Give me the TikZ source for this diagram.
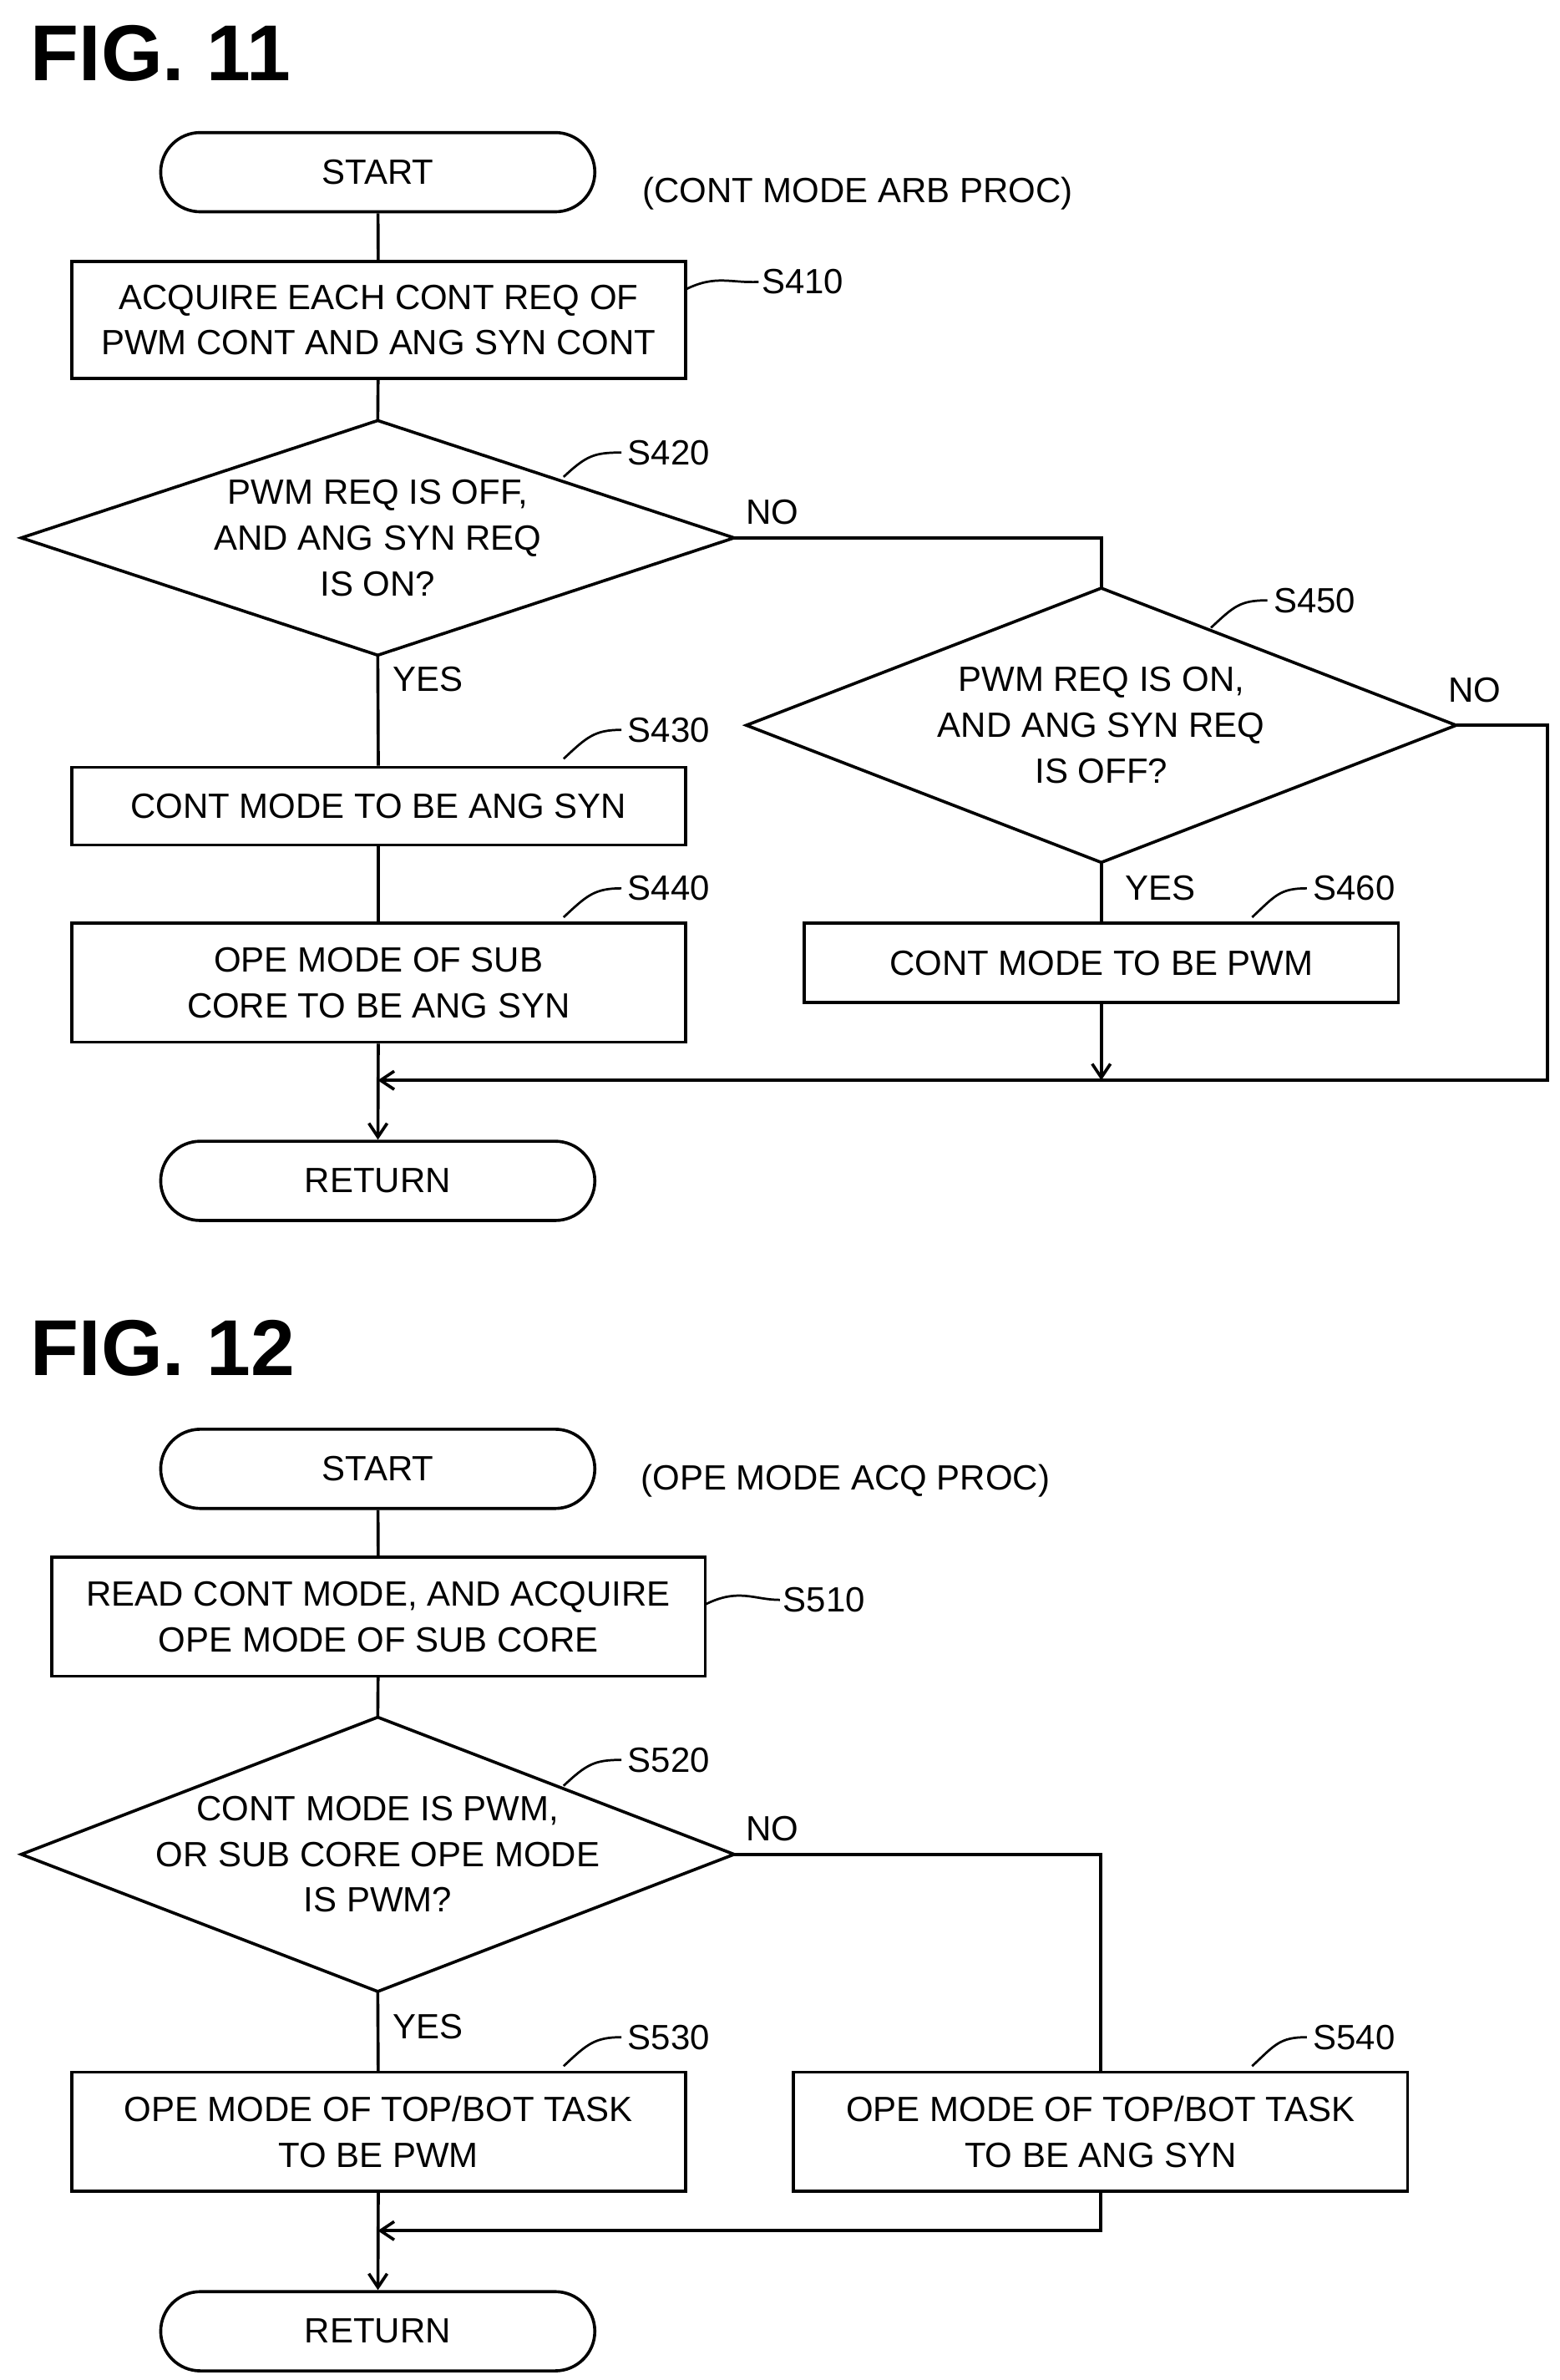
\documentclass[tikz,border=0pt]{standalone}
\usepackage{fontspec}
\setmainfont{Liberation Sans}
\usetikzlibrary{shapes.misc,arrows.meta}
\tikzset{
  txt/.style={font=\fontsize{23}{30}\selectfont, align=center, inner sep=0pt},
  box/.style={draw, line width=2pt, txt},
  term/.style={draw, line width=2pt, rounded rectangle, minimum width=285pt, minimum height=52pt, txt},
  lab/.style={txt, anchor=west},
  ln/.style={line width=2pt},
  arr/.style={line width=2pt, -{Straight Barb[length=9pt,width=12pt]}},
  fig/.style={font=\fontsize{52}{56}\selectfont\bfseries, anchor=west, inner sep=0pt}
}
\newcommand{\diam}[5]{% name, cx, cy, half width, half height
  \coordinate (#1-c) at (#2,#3);
  \coordinate (#1-n) at (#2,#3-#5);
  \coordinate (#1-s) at (#2,#3+#5);
  \coordinate (#1-w) at (#2-#4,#3);
  \coordinate (#1-e) at (#2+#4,#3);
  \draw[ln] (#1-n) -- (#1-e) -- (#1-s) -- (#1-w) -- cycle;}
\newcommand{\steplab}[3]{% from point, label pos, text
  \draw[line width=1.5pt] (#1) .. controls +(15,-14) and +(-18,0) .. ([xshift=-4pt]#2);
  \node[lab] at (#2) {#3};}
\begin{document}
\begin{tikzpicture}[x=1pt,y=1pt,yscale=-1]
\useasboundingbox (0,0) rectangle (1024,1562);

%FIG. 11
\node[fig] (f11) at (20,35) {FIG. 11};
\node[term] (start1) at (248,113) {START};
\node[txt] (c1) at (563,127) {(CONT MODE ARB PROC)};
\node[box, minimum width=403pt, minimum height=77pt] (s410) at (248.5,210) {ACQUIRE EACH CONT REQ OF\\PWM CONT AND ANG SYN CONT};
\draw[line width=1.5pt] (450,190) .. controls (470,180) and (480,186) .. (498,185);
\node[lab] at (500,185) {S410};
\diam{s420}{248}{353}{234}{77}
\node[txt] (t420) at (s420-c) {PWM REQ IS OFF,\\AND ANG SYN REQ\\IS ON?};
\steplab{370,313}{412,297}{S420}
\node[box, minimum width=403pt, minimum height=51pt] (s430) at (248.5,529) {CONT MODE TO BE ANG SYN};
\steplab{370,498}{412,479}{S430}
\node[box, minimum width=403pt, minimum height=78pt] (s440) at (248.5,645) {OPE MODE OF SUB\\CORE TO BE ANG SYN};
\steplab{370,602}{412,583}{S440}
\diam{s450}{723}{476}{233}{90}
\node[txt] (t450) at (s450-c) {PWM REQ IS ON,\\AND ANG SYN REQ\\IS OFF?};
\steplab{795,412}{836,394}{S450}
\node[box, minimum width=390pt, minimum height=52pt] (s460) at (723,632) {CONT MODE TO BE PWM};
\steplab{822,602}{862,583}{S460}
\node[term] (ret1) at (248,775) {RETURN};
\coordinate (j1) at (248,709);
\coordinate (r1) at (1016,476);
\node[txt] at (507,336) {NO};
\node[txt] at (281,446) {YES};
\node[txt] at (968,453) {NO};
\node[txt] at (762,583) {YES};
\draw[ln] (start1) -- (s410);
\draw[ln] (s410) -- (s420-n);
\draw[ln] (s420-s) -- (s430);
\draw[ln] (s430) -- (s440);
\draw[arr] (s440) -- (ret1);
\draw[ln] (s420-e) -| (s450-n);
\draw[ln] (s450-s) -- (s460);
\draw[arr] (s460) -- (723,709);
\draw[arr] (s450-e) -- (r1) |- (j1);

%FIG. 12
\node[fig] (f12) at (20,885) {FIG. 12};
\node[term] (start2) at (248,964) {START};
\node[txt] (c2) at (555,972) {(OPE MODE ACQ PROC)};
\node[box, minimum width=429pt, minimum height=78pt] (s510) at (248.5,1061) {READ CONT MODE, AND ACQUIRE\\OPE MODE OF SUB CORE};
\draw[line width=1.5pt] (463,1053) .. controls (485,1042) and (495,1050) .. (512,1050);
\node[lab] at (514,1050) {S510};
\diam{s520}{248}{1217}{234}{90}
\node[txt] (t520) at (s520-c) {CONT MODE IS PWM,\\OR SUB CORE OPE MODE\\IS PWM?};
\steplab{370,1172}{412,1155}{S520}
\node[box, minimum width=403pt, minimum height=78pt] (s530) at (248.5,1399) {OPE MODE OF TOP/BOT TASK\\TO BE PWM};
\steplab{370,1356}{412,1337}{S530}
\node[box, minimum width=403pt, minimum height=78pt] (s540) at (722.5,1399) {OPE MODE OF TOP/BOT TASK\\TO BE ANG SYN};
\steplab{822,1356}{862,1337}{S540}
\node[term] (ret2) at (248,1530) {RETURN};
\coordinate (j2) at (248,1464);
\node[txt] at (507,1200) {NO};
\node[txt] at (281,1330) {YES};
\draw[ln] (start2) -- (s510);
\draw[ln] (s510) -- (s520-n);
\draw[ln] (s520-s) -- (s530);
\draw[arr] (s530) -- (ret2);
\draw[ln] (s520-e) -| (s540);
\draw[arr] (s540.south) |- (j2);
\end{tikzpicture}
\end{document}
